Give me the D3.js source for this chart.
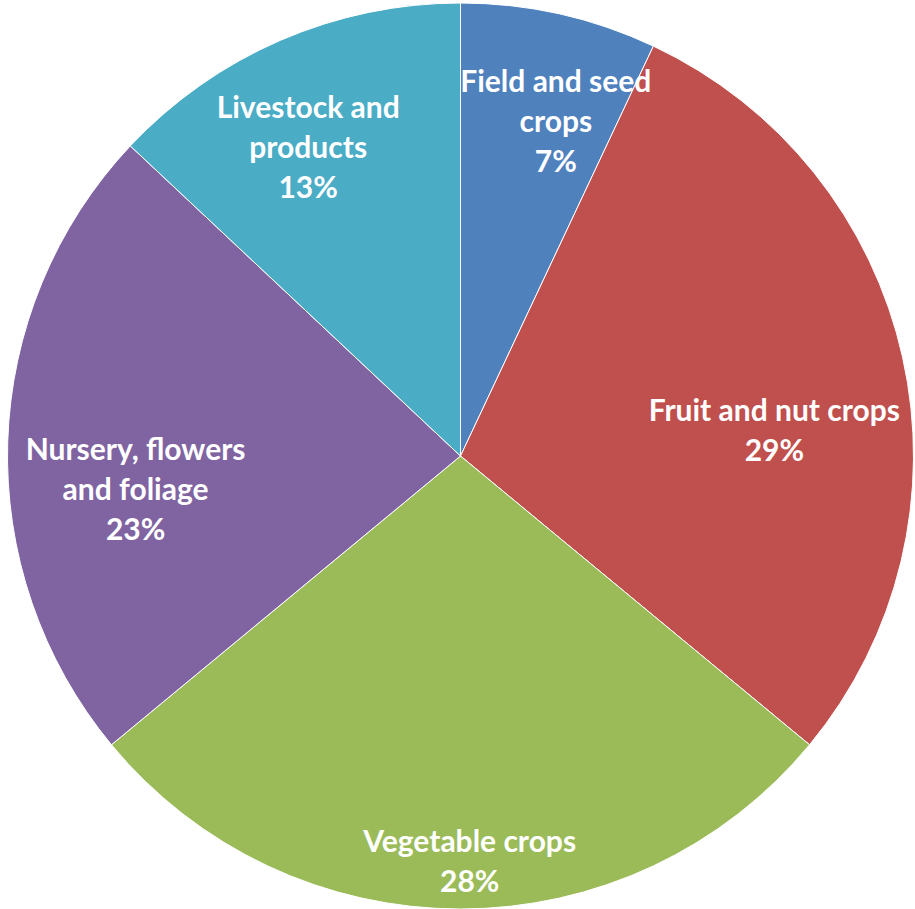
<!DOCTYPE html>
<html>
<head>
<meta charset="utf-8">
<script src="https://cdn.jsdelivr.net/npm/d3@7"></script>
<style>
  html, body { margin: 0; padding: 0; background: #ffffff; }
  svg { display: block; }
  .label { font-family: Lato, "Open Sans", sans-serif; font-weight: 700; fill: #ffffff; }
</style>
</head>
<body>
<svg id="chart" width="915" height="909"></svg>
<script>
// Sales share by commodity group, clockwise from 12 o'clock
const categories = [
  "Field and seed crops",
  "Fruit and nut crops",
  "Vegetable crops",
  "Nursery, flowers and foliage",
  "Livestock and products"
];
const shares = [7, 29, 28, 23, 13];
// Line breaks used for each slice label
const labelLines = [
  ["Field and seed", "crops"],
  ["Fruit and nut crops"],
  ["Vegetable crops"],
  ["Nursery, flowers", "and foliage"],
  ["Livestock and", "products"]
];
const colors = ["#4F81BD", "#C0504D", "#9BBB59", "#8064A2", "#4BACC6"];

const width = 915, height = 909;
const cx = 460.5, cy = 456, radius = 453;

const svg = d3.select("#chart");
const g = svg.append("g").attr("transform", `translate(${cx},${cy})`);

const data = categories.map((c, i) => ({ name: c, value: shares[i], lines: labelLines[i], color: colors[i] }));

const pie = d3.pie().value(d => d.value).sort(null);
const arcs = pie(data);
const arc = d3.arc().innerRadius(0).outerRadius(radius);

g.selectAll("path.slice")
  .data(arcs)
  .join("path")
  .attr("class", "slice")
  .attr("d", arc)
  .attr("fill", d => d.data.color)
  .attr("stroke", "#ffffff")
  .attr("stroke-width", 1);

// Label placement: mid-angle nudged so each block sits fully inside its slice
const labelNudge = [
  { dAngle: 3.3, frac: 0.768 },
  { dAngle: 8.0, frac: 0.695 },
  { dAngle: -1.3, frac: 0.896 },
  { dAngle: -7.6, frac: 0.721 },
  { dAngle: -2.9, frac: 0.759 }
];
const lineHeight = 40;
const fontSize = 30;

arcs.forEach((a, i) => {
  const mid = (a.startAngle + a.endAngle) / 2 + labelNudge[i].dAngle * Math.PI / 180;
  const r = radius * labelNudge[i].frac;
  const x = r * Math.sin(mid);
  const y = -r * Math.cos(mid);
  const lines = [...a.data.lines, a.data.value + "%"];
  const top = y - (lines.length - 1) * lineHeight / 2;
  const t = g.append("text")
    .attr("class", "label")
    .attr("text-anchor", "middle")
    .attr("font-size", fontSize);
  lines.forEach((ln, k) => {
    t.append("tspan")
      .attr("x", x)
      .attr("y", top + k * lineHeight)
      .attr("dy", "0.35em")
      .text(ln);
  });
});
</script>
</body>
</html>
